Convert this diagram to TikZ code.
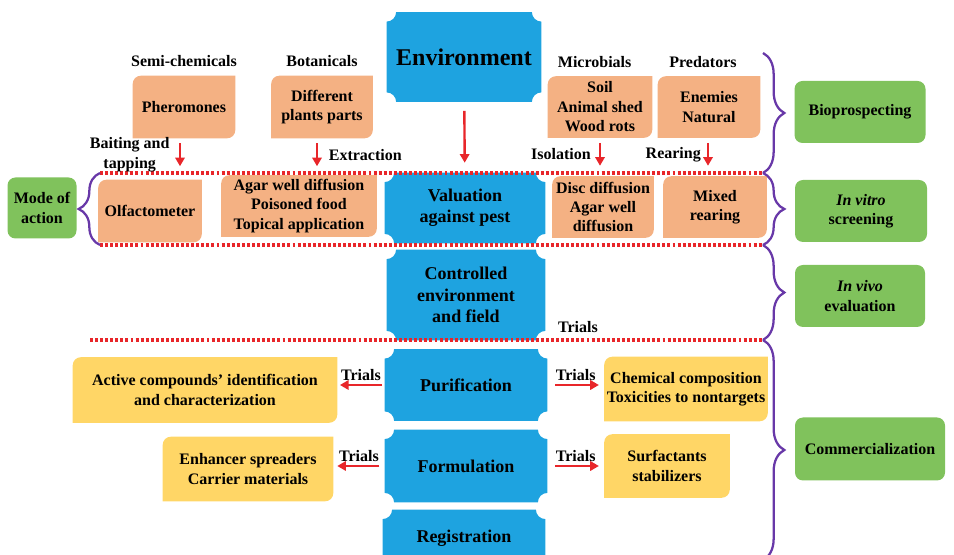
\documentclass[tikz,border=0pt]{standalone}
\usepackage{fontspec}
\setmainfont{Liberation Serif}
\usepackage{tikz}
\usetikzlibrary{arrows.meta,positioning,backgrounds,decorations.pathreplacing}

\definecolor{plqblue}{RGB}{30,163,224}
\definecolor{srcorange}{RGB}{244,177,131}
\definecolor{stgreen}{RGB}{128,194,92}
\definecolor{outyellow}{RGB}{255,214,102}
\definecolor{arred}{RGB}{232,38,42}
\definecolor{brpurple}{RGB}{104,56,168}

\begin{document}
\begin{tikzpicture}[
  x=0.75pt,y=-0.75pt,
  node distance=5.5pt,
  txt/.style  ={font=\fontsize{12}{14.6}\selectfont\bfseries,align=center,
                inner sep=1pt,text=black},
  wh/.style 2 args={minimum width=#1*0.75pt,minimum height=#2*0.75pt},
  plq/.style  ={txt,font=\fontsize{13.5}{16}\selectfont\bfseries},
  src/.style  ={txt},
  outb/.style ={txt},
  stage/.style={txt,fill=stgreen,rounded corners=6pt},
  ar/.style   ={-{Triangle[width=7pt,length=6.5pt]},line width=1.8pt,color=arred},
  sep/.style  ={arred,line width=2.4pt,dash pattern=on 2.2pt off 1.6pt},
  br/.style   ={decorate,decoration={brace,amplitude=16pt},
                line width=1.7pt,color=brpurple}
]
\useasboundingbox (0,0) rectangle (954,555);

% centre column
\node[plq,wh={154}{89},font=\fontsize{18}{21}\selectfont\bfseries]
                          (env)  at (464,57)  {Environment};
\node[plq,wh={160}{70}]   (val)  at (465,208) {Valuation\\against pest};
\node[plq,wh={158}{90}]   (ctrl) at (466,295) {Controlled\\environment\\and field};
\node[plq,wh={162}{71}]   (puri) at (466,385) {Purification};
\node[plq,wh={162}{72}]   (form) at (466,466) {Formulation};
\node[plq,wh={162}{56}]   (reg)  at (464,538) {Registration};

% sources and screening
\node[src,wh={102}{62}] (pher)   at (184,107) {Pheromones};
\node[src,wh={101}{62}] (plants) at (322,107) {Different\\plants parts};
\node[src,wh={104}{61}] (soil)   at (600,107) {Soil\\Animal shed\\Wood rots};
\node[src,wh={102}{61}] (enem)   at (709,107) {Enemies\\Natural};
\node[src,wh={103}{62}] (olf)    at (150,211) {Olfactometer};
\node[src,wh={155}{61}] (agar)   at (299,206) {Agar well diffusion\\Poisoned food\\Topical application};
\node[src,wh={101}{61}] (disc)   at (603,207) {Disc diffusion\\Agar well\\diffusion};
\node[src,wh={103}{61}] (mixed)  at (715,207) {Mixed\\rearing};

\node[txt,above=of pher]                (semi) {Semi-chemicals};
\node[txt,above=of plants]              (bot)  {Botanicals};
\node[txt,above=of soil,xshift=-4pt]    (mic)  {Microbials};
\node[txt,above=of enem,xshift=-4.5pt]  (pred) {Predators};

% stages
\node[stage,wh={69}{61}]  (moa)   at (42,208)  {Mode of\\action};
\node[stage,wh={131}{62}] (bio)   at (860,112) {Bioprospecting};
\node[stage,wh={132}{62}] (vitro) at (861,211) {{\itshape In vitro}\\screening};
\node[stage,wh={130}{62}] (vivo)  at (860,296) {{\itshape In vivo}\\evaluation};
\node[stage,wh={150}{63}] (comm)  at (870,449) {Commercialization};

% products
\node[outb,wh={264}{65}] (act)  at (205,390) {Active compounds' identification\\and characterization};
\node[outb,wh={170}{64}] (enh)  at (248,469) {Enhancer spreaders\\Carrier materials};
\node[outb,wh={163}{64}] (chem) at (686,389) {Chemical composition\\Toxicities to nontargets};
\node[outb,wh={125}{63}] (surf) at (667,466) {Surfactants\\stabilizers};

\node[txt] (trialsc) at (578,327) {Trials};

% box shapes
\begin{scope}[on background layer]
\foreach \n in {env,val,ctrl,puri,form,reg}
  \fill[plqblue] ([xshift=7pt]\n.north west) -- ([xshift=-7pt]\n.north east)
    arc[start angle=180,end angle=270,radius=7pt] -- ([yshift=7pt]\n.south east)
    arc[start angle=90,end angle=180,radius=7pt] -- ([xshift=7pt]\n.south west)
    arc[start angle=0,end angle=90,radius=7pt] -- ([yshift=-7pt]\n.north west)
    arc[start angle=270,end angle=360,radius=7pt] -- cycle;
\foreach \n/\c in {pher/srcorange,plants/srcorange,soil/srcorange,enem/srcorange,
                   olf/srcorange,agar/srcorange,disc/srcorange,mixed/srcorange,
                   act/outyellow,enh/outyellow,chem/outyellow,surf/outyellow}
  \fill[\c] (\n.south west) -- ([yshift=-6pt]\n.north west)
    arc[start angle=180,end angle=90,radius=6pt] -- (\n.north east)
    -- ([yshift=6pt]\n.south east) arc[start angle=0,end angle=-90,radius=6pt] -- cycle;
\end{scope}

% dotted separators
\draw[sep] (100,173) -- (762,173);
\draw[sep] (100,245) -- (762,245);
\draw[sep] (90,340)  -- (764,340);

% braces
\draw[br] (763,53)  -- (763,173);
\draw[br] (763,173) -- (763,245);
\draw[br] (763,245) -- (763,340);
\draw[br] (763,340) -- (763,560);
\draw[br] (100,245) -- (100,173);

% arrows
\draw[ar] ([xshift=-3pt,yshift=-3.75pt]pher.south) -- ++(0,23)
  node[txt,midway,left=6pt] {Baiting and\\tapping};
\draw[ar] ([xshift=-3.75pt,yshift=-3.75pt]plants.south) -- ++(0,23)
  node[txt,midway,right=7pt] {Extraction};
\draw[ar] ([yshift=-3.75pt]soil.south) -- ++(0,23)
  node[txt,midway,left=5pt] {Isolation};
\draw[ar] ([xshift=-0.75pt,yshift=-3.75pt]enem.south) -- ++(0,23)
  node[txt,midway,left=3.5pt] {Rearing};
\draw[ar,shorten <=6.75pt,shorten >=7.5pt] (env) -- (val);

\draw[ar,shorten <=2pt,shorten >=2pt] (puri.west) -- (puri.west -| act.east)
  node[txt,midway,above=1.5pt] {Trials};
\draw[ar,shorten <=4pt,shorten >=3pt] (form.west) -- (form.west -| enh.east)
  node[txt,midway,above=1.5pt] {Trials};
\draw[ar,shorten <=6pt,shorten >=4pt] (puri.east) -- (puri.east -| chem.west)
  node[txt,midway,above=1.5pt] {Trials};
\draw[ar,shorten <=6pt,shorten >=4pt] (form.east) -- (form.east -| surf.west)
  node[txt,midway,above=1.5pt] {Trials};
\end{tikzpicture}
\end{document}
